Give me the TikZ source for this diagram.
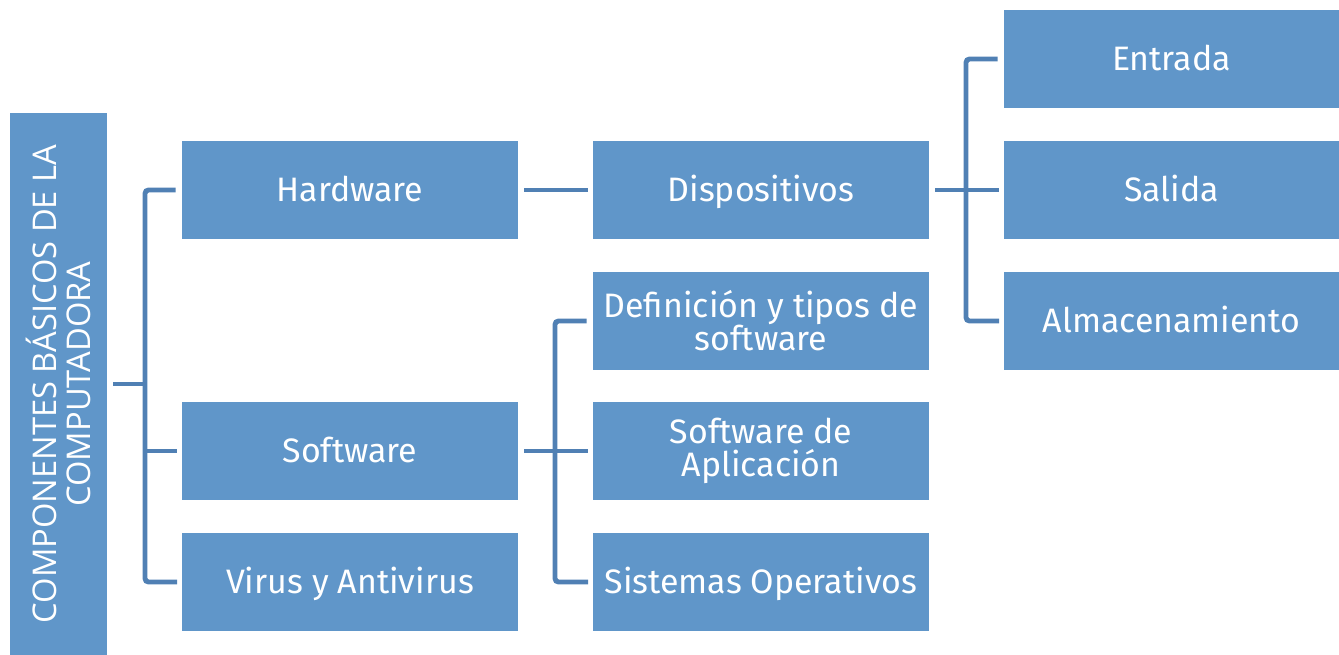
\documentclass[tikz,border=0pt]{standalone}
\usepackage{fontspec}
\setmainfont{Fira Sans}
\newfontfamily\titlefont{Open Sans}
\usetikzlibrary{positioning}
\definecolor{boxblue}{HTML}{6096C9}
\definecolor{lineblue}{HTML}{5080B4}
\tikzset{
    box2/.style={
        fill=boxblue,
        minimum width=6.72cm,
        minimum height=1.96cm,
        inner sep=2pt,
        text=white,
        align=center,
        font=\fontsize{19.3}{18.8}\selectfont
    },
    box/.style={
        box2,
        text height=13.3pt,
        text depth=0pt
    },
    rootbox/.style={
        fill=boxblue,
        rotate=90,
        minimum width=10.84cm,
        minimum height=1.94cm,
        text=white,
        align=center,
        font=\titlefont\fontsize{18.6}{19}\selectfont
    },
    link/.style={
        draw=lineblue,
        line width=2.8pt,
        rounded corners=2pt,
        shorten <=0.12cm,
        shorten >=0.09cm
    }
}

\begin{document}
\begin{tikzpicture}[x=0.02cm, y=-0.02cm]
    \useasboundingbox (0,0) rectangle (1339,655);

    \node[rootbox] (root) at (58.5,384) {COMPONENTES BÁSICOS DE LA\\COMPUTADORA};

    \node[box] (hw)   at (350,190) {Hardware};
    \node[box] (sw)   at (350,451) {Software};
    \node[box] (vir)  at (350,582) {Virus y Antivirus};

    \node[box]  (disp) at (761,190) {Dispositivos};
    \node[box2] (def)  at (761,321) {Definición y tipos de\\software};
    \node[box2] (app)  at (761,451) {Software de\\Aplicación};
    \node[box]  (so)   at (761,582) {Sistemas Operativos};

    \node[box, minimum width=6.7cm] (ent) at (1171.5,59)  {Entrada};
    \node[box, minimum width=6.7cm] (sal) at (1171.5,190) {Salida};
    \node[box, minimum width=6.7cm] (alm) at (1171.5,321) {Almacenamiento};

    \coordinate (ja) at (145,0);
    \coordinate (jb) at (555,0);
    \coordinate (jc) at (966,0);

    % root branches
    \draw[link] (hw.west) -| (vir.west -| ja) -- (vir.west);
    \draw[link, shorten >=0pt] (root.south) -- (root.south -| ja);
    \draw[link, shorten <=0pt] (sw.west -| ja) -- (sw.west);

    % hardware
    \draw[link] (hw.east) -- (disp.west);

    % software branches
    \draw[link] (def.west) -| (so.west -| jb) -- (so.west);
    \draw[link, shorten >=0pt] (sw.east) -- (sw.east -| jb);
    \draw[link, shorten <=0pt] (app.west -| jb) -- (app.west);

    % dispositivos branches
    \draw[link] (ent.west) -| (alm.west -| jc) -- (alm.west);
    \draw[link] (disp.east) -- (sal.west);
\end{tikzpicture}
\end{document}
